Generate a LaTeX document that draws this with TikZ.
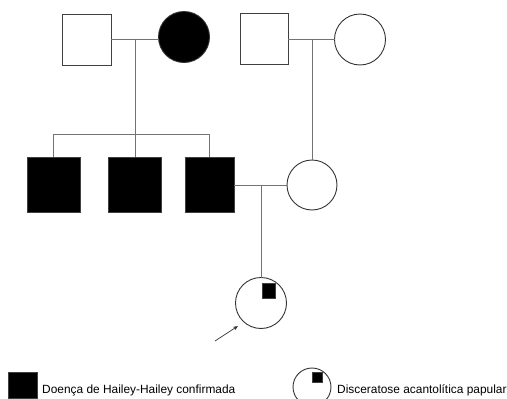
\documentclass[tikz,border=0pt]{standalone}
\usepackage{fontspec}
\setmainfont{Liberation Sans}
\usetikzlibrary{arrows.meta}
\begin{document}
\begin{tikzpicture}[x=1pt,y=-1pt,
  conn/.style={draw=black!55,line width=0.9pt},
  sq/.style={draw=black!75,line width=0.9pt,rectangle,inner sep=0pt,outer sep=0pt},
  circ/.style={draw=black!80,line width=0.9pt,circle,inner sep=0pt,outer sep=0pt},
  aff/.style={fill=black},
  lbl/.style={inner sep=0pt,anchor=base west,font=\fontsize{11.9}{14}\selectfont}]
\useasboundingbox (0,0) rectangle (507,399);
% generation I
\node[sq,minimum width=49pt,minimum height=51pt] (A) at (86.5,39.5) {};
\node[circ,aff,minimum size=51pt] (B) at (184,37) {};
\node[sq,minimum width=48pt,minimum height=51pt] (C) at (264,38.5) {};
\node[circ,minimum size=51pt] (D) at (360,39.5) {};
\coordinate (ab) at (135,39);
\coordinate (cd) at (312,39.5);
\draw[conn] (A.east |- ab) -- (B.west |- ab);
\draw[conn] (C.east |- cd) -- (D.west |- cd);
% generation II
\node[sq,aff,minimum width=53pt,minimum height=55pt] (E) at (53.5,184.5) {};
\node[sq,aff,minimum width=53pt,minimum height=55pt] (F) at (135,184.5) {};
\node[sq,aff,minimum width=49pt,minimum height=55pt] (G) at (209.5,184.5) {};
\node[circ,minimum size=50pt] (H) at (312,185) {};
\coordinate (sib) at (135,134);
\draw[conn] (ab) -- (sib);
\draw[conn] (E.north) -- (E.north |- sib) -- (G.north |- sib) -- (G.north);
\draw[conn] (F.north) -- (F.north |- sib);
\draw[conn] (cd) -- (H.north);
\coordinate (gh) at (261,185);
\draw[conn] (G.east |- gh) -- (H.west |- gh);
% generation III
\node[circ,minimum size=51pt] (P) at (261,303) {};
\node[sq,aff,minimum width=13pt,minimum height=15pt] (Pm) at (268.5,290.5) {};
\draw[conn] (gh) -- (P.north);
\coordinate (arr) at (215,341);
\coordinate (arrtip) at (238,326);
\draw[black!80,line width=0.7pt,-{Stealth[length=5pt,width=4pt]}] (arr) -- (arrtip);
% legend
\node[sq,aff,minimum width=29pt,minimum height=26pt] (L1) at (22.5,385) {};
\node[lbl] (T1) at (42,393) {Doença de Hailey-Hailey confirmada};
\node[circ,minimum size=38pt] (L2) at (312,387) {};
\node[sq,aff,minimum width=10pt,minimum height=10pt] (L2m) at (317,377) {};
\node[lbl] (T2) at (337,393) {Disceratose acantolítica papular};
\end{tikzpicture}
\end{document}
